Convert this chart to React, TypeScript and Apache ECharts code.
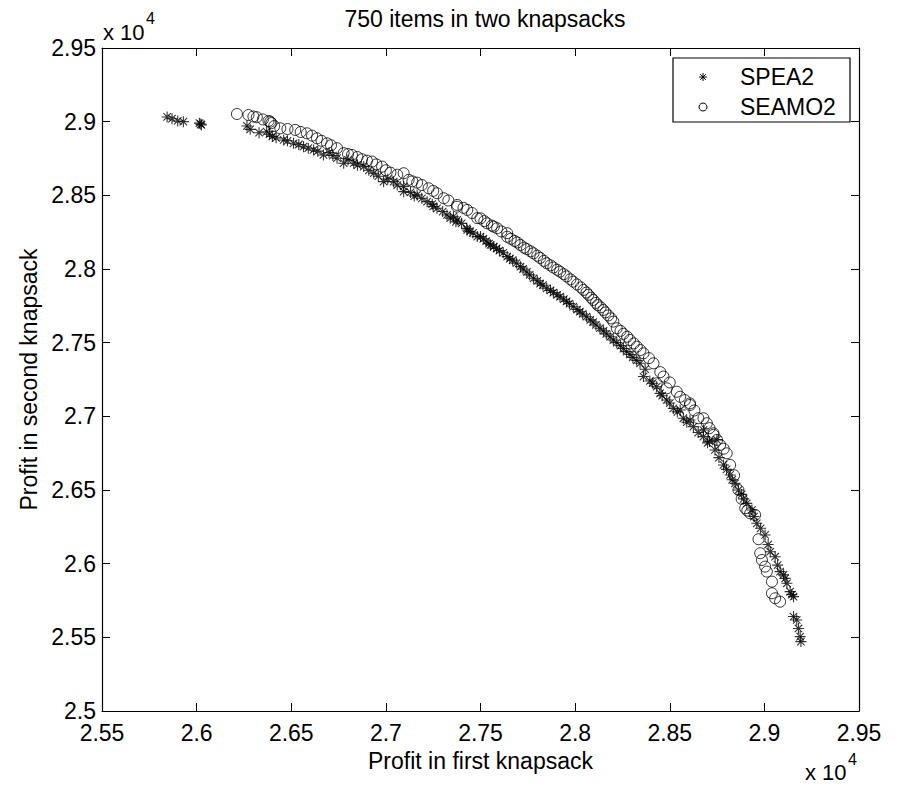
import React, { useEffect, useRef } from "react";
import * as echarts from "echarts";

const TITLE = "750 items in two knapsacks";
const X_NAME = "Profit in first knapsack";
const Y_NAME = "Profit in second knapsack";
const SERIES_NAMES = ["SPEA2", "SEAMO2"];

// Profit values (the chart shows them scaled by 10^4)
const SPEA2: [number, number][] = [
  [25844, 29032], [25870, 29020], [25900, 29005], [25930, 29000],
  [26015, 28990], [26022, 28984], [26025, 28978],
  [26266, 28971], [26283, 28948], [26370, 28932], [26385, 28915], [26400, 28900],
  [26330, 28925], [26420, 28890], [26480, 28870], [26540, 28845], [26590, 28820],
  [26460, 28876], [26512, 28853], [26565, 28830], [26618, 28808], [26670, 28774],
  [26640, 28800], [26720, 28770], [26800, 28740], [26850, 28705], [26910, 28670],
  [26700, 28790], [26742, 28752], [26777, 28718], [26830, 28718], [26883, 28695],
  [26936, 28650], [26960, 28630], [26988, 28593], [27041, 28593], [27094, 28560],
  [27010, 28610], [27060, 28570], [27150, 28495], [27190, 28480], [27250, 28425],
  [27094, 28525], [27130, 28520], [27165, 28503], [27218, 28457], [27245, 28440],
  [27270, 28412], [27300, 28390], [27323, 28367], [27357, 28355], [27377, 28333],
  [27340, 28345], [27370, 28320], [27445, 28255], [27515, 28205], [27545, 28172],
  [27400, 28310], [27427, 28276], [27430, 28265], [27460, 28245], [27483, 28220],
  [27500, 28220], [27530, 28190], [27553, 28164], [27570, 28151], [27600, 28125],
  [27585, 28140], [27620, 28110], [27655, 28070], [27690, 28040], [27725, 28000],
  [27641, 28084], [27670, 28060], [27711, 28016], [27745, 27980], [27780, 27937],
  [27760, 27960], [27800, 27920], [27830, 27890], [27870, 27855], [27905, 27825],
  [27815, 27900], [27850, 27869], [27885, 27840], [27920, 27812], [27955, 27780],
  [27940, 27795], [27970, 27765], [28010, 27725], [28040, 27695], [28080, 27655],
  [27990, 27744], [28025, 27710], [28060, 27676], [28095, 27640], [28131, 27598],
  [28110, 27620], [28150, 27580], [28185, 27540], [28220, 27500], [28255, 27460],
  [28165, 27560], [28202, 27518], [28240, 27480], [28272, 27439], [28305, 27400],
  [28290, 27420], [28325, 27380], [28370, 27320], [28410, 27225], [28460, 27140],
  [28343, 27360], [28361, 27270], [28395, 27240], [28431, 27201], [28449, 27156],
  [28500, 27090], [28540, 27030], [28590, 26960], [28650, 26890], [28700, 26820],
  [28484, 27111], [28519, 27054], [28555, 27043], [28572, 26987], [28607, 26975],
  [28625, 26930], [28678, 26907], [28678, 26862], [28710, 26830], [28739, 26772],
  [28760, 26720], [28830, 26570], [28880, 26470], [28890, 26440], [28945, 26320],
  [28749, 26840], [28784, 26670], [28800, 26640], [28819, 26602], [28845, 26545],
  [28863, 26500], [28907, 26409], [28934, 26364], [28960, 26274], [29004, 26195],
  [28980, 26240], [29020, 26130], [29070, 25990], [29110, 25900], [29145, 25790],
  [29031, 26081], [29057, 26047], [29083, 25946], [29101, 25924], [29119, 25867],
  [29136, 25810], [29154, 25776], [29154, 25641], [29171, 25618], [29189, 25505],
  [29180, 25560], [29193, 25471],
];

const SEAMO2: [number, number][] = [
  [26213, 29052], [26274, 29045], [26318, 29030], [26380, 29005], [26389, 29000],
  [26300, 29035], [26350, 29015], [26410, 28970], [26480, 28950], [26550, 28930],
  [26395, 28990], [26442, 28955], [26521, 28944], [26583, 28921], [26636, 28887],
  [26610, 28905], [26660, 28870], [26710, 28840], [26800, 28780], [26850, 28760],
  [26689, 28853], [26742, 28820], [26777, 28786], [26821, 28774], [26874, 28745],
  [26900, 28735], [26950, 28710], [27000, 28670], [27060, 28640], [27140, 28595],
  [26927, 28729], [26980, 28695], [27024, 28654], [27094, 28650], [27120, 28605],
  [27190, 28570], [27250, 28530], [27330, 28465], [27410, 28415], [27455, 28380],
  [27165, 28586], [27226, 28548], [27270, 28514], [27306, 28480], [27377, 28435],
  [27376, 28423], [27430, 28401], [27483, 28345], [27500, 28344], [27535, 28310],
  [27520, 28325], [27560, 28295], [27610, 28255], [27660, 28205], [27695, 28180],
  [27570, 28287], [27588, 28277], [27641, 28243], [27641, 28219], [27680, 28190],
  [27730, 28145], [27765, 28120], [27800, 28090], [27835, 28055], [27870, 28025],
  [27711, 28163], [27745, 28135], [27780, 28107], [27815, 28075], [27850, 28039],
  [27905, 27995], [27940, 27965], [27975, 27930], [28010, 27895], [28030, 27875],
  [27885, 28010], [27920, 27982], [27955, 27950], [27990, 27914], [28044, 27858],
  [28060, 27840], [28085, 27805], [28110, 27770], [28135, 27740], [28160, 27705],
  [28070, 27825], [28096, 27790], [28120, 27755], [28149, 27722], [28175, 27685],
  [28190, 27665], [28240, 27580], [28275, 27540], [28310, 27495], [28345, 27450],
  [28202, 27643], [28220, 27598], [28255, 27560], [28290, 27518], [28326, 27473],
  [28390, 27395], [28450, 27300], [28500, 27230], [28580, 27110], [28630, 27040],
  [28361, 27428], [28414, 27360], [28431, 27224], [28467, 27270], [28484, 27190],
  [28537, 27167], [28555, 27133], [28607, 27088], [28607, 27077], [28651, 26987],
  [28710, 26920], [28750, 26840], [28785, 26780], [28840, 26600], [28880, 26440],
  [28678, 26987], [28696, 26953], [28731, 26885], [28731, 26874], [28766, 26806],
  [28801, 26749], [28819, 26670], [28863, 26500], [28899, 26376], [28925, 26342],
  [28910, 26360], [28951, 26331], [28969, 26166], [28978, 26071], [28987, 26025],
  [29004, 25980], [29013, 25946], [29040, 25878], [29040, 25799], [29057, 25765],
  [29083, 25742],
];

const X_MIN = 25500;
const X_MAX = 29500;
const Y_MIN = 25000;
const Y_MAX = 29500;
const STEP = 500;

const FONT = '"Liberation Sans", Arial, Helvetica, sans-serif';
const STAR = "path://M5 0L5 10M0 5L10 5M1.6 1.6L8.4 8.4M1.6 8.4L8.4 1.6";

const fmt = (v: number) => String(parseFloat((v / 10000).toFixed(2)));

export default function App() {
  const ref = useRef<HTMLDivElement>(null);

  useEffect(() => {
    if (!ref.current) return;
    const chart = echarts.init(ref.current, undefined, { renderer: "svg" });

    const tickStyle = { show: true, inside: true, length: 8, lineStyle: { color: "#000", width: 1 } };
    const lineStyle = { show: true, lineStyle: { color: "#000", width: 1.2 } };
    const labelStyle = { color: "#000", fontSize: 23, fontFamily: FONT };

    const mkX = (pos: "bottom" | "top", labels: boolean) => ({
      type: "value",
      position: pos,
      min: X_MIN,
      max: X_MAX,
      interval: STEP,
      axisLine: { ...lineStyle, onZero: false },
      axisTick: tickStyle,
      splitLine: { show: false },
      axisLabel: labels ? { ...labelStyle, margin: 10, formatter: fmt } : { show: false },
      ...(labels
        ? { name: X_NAME, nameLocation: "middle", nameGap: 38, nameTextStyle: { ...labelStyle } }
        : {}),
    });
    const mkY = (pos: "left" | "right", labels: boolean) => ({
      type: "value",
      position: pos,
      min: Y_MIN,
      max: Y_MAX,
      interval: STEP,
      axisLine: { ...lineStyle, onZero: false },
      axisTick: tickStyle,
      splitLine: { show: false },
      axisLabel: labels ? { ...labelStyle, margin: 6, formatter: fmt } : { show: false },
      ...(labels
        ? { name: Y_NAME, nameLocation: "middle", nameGap: 58, nameTextStyle: { ...labelStyle } }
        : {}),
    });

    const txt = (x: number, y: number, text: string, size: number) => ({
      type: "text",
      x,
      y,
      style: { text, fill: "#000", font: `${size}px ${FONT}`, align: "left", verticalAlign: "middle" },
    });
    const seg = (x1: number, y1: number, x2: number, y2: number) => ({
      type: "line",
      shape: { x1, y1, x2, y2 },
      style: { stroke: "#000", lineWidth: 1 },
    });

    chart.setOption({
      animation: false,
      backgroundColor: "#fff",
      title: {
        text: TITLE,
        left: 480,
        top: 2,
        textAlign: "center",
        textStyle: { color: "#000", fontSize: 23, fontWeight: "normal", fontFamily: FONT },
      },
      grid: { left: 102, right: 41, top: 48, bottom: 76, containLabel: false },
      xAxis: [mkX("bottom", true), mkX("top", false)],
      yAxis: [mkY("left", true), mkY("right", false)],
      series: [
        {
          name: SERIES_NAMES[0],
          type: "scatter",
          data: SPEA2,
          symbol: STAR,
          symbolSize: 11,
          itemStyle: { color: "rgba(0,0,0,0)", borderColor: "#000", borderWidth: 1.1 },
        },
        {
          name: SERIES_NAMES[1],
          type: "scatter",
          data: SEAMO2,
          symbol: "circle",
          symbolSize: 11,
          itemStyle: { color: "rgba(0,0,0,0)", borderColor: "#000", borderWidth: 1 },
        },
      ],
      graphic: [
        txt(103, 32, "x 10", 22),
        txt(146, 18, "4", 16),
        txt(805, 772, "x 10", 22),
        txt(848, 759, "4", 16),
        {
          type: "group",
          z: 100,
          children: [
            {
              type: "rect",
              shape: { x: 673, y: 58, width: 177, height: 64 },
              style: { fill: "#fff", stroke: "#000", lineWidth: 1.2 },
            },
            seg(703, 73, 703, 81),
            seg(699, 77, 707, 77),
            seg(700.2, 74.2, 705.8, 79.8),
            seg(700.2, 79.8, 705.8, 74.2),
            {
              type: "circle",
              shape: { cx: 703, cy: 107, r: 4 },
              style: { fill: "none", stroke: "#000", lineWidth: 1 },
            },
            txt(740, 77, SERIES_NAMES[0], 23),
            txt(740, 107, SERIES_NAMES[1], 23),
          ],
        },
      ],
    });

    return () => chart.dispose();
  }, []);

  return (
    <div
      ref={ref}
      style={{ position: "fixed", left: 0, top: 0, width: 900, height: 787, background: "#fff" }}
    />
  );
}
